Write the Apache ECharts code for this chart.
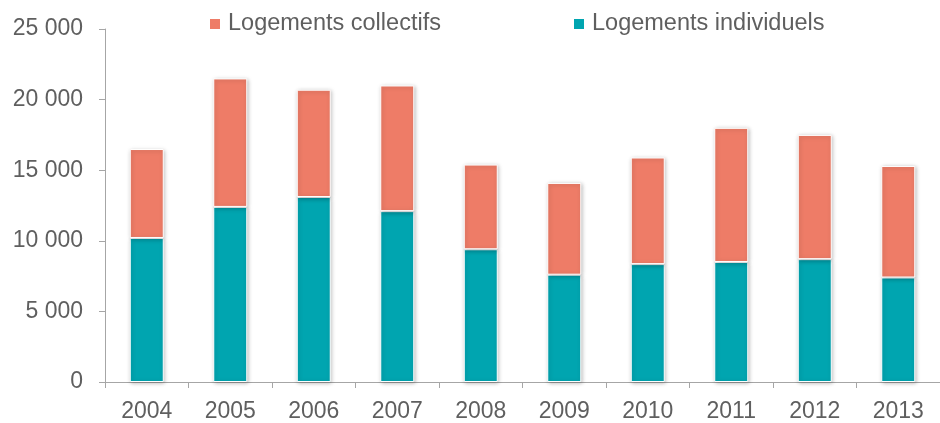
<!DOCTYPE html>
<html><head><meta charset="utf-8">
<script src="https://cdn.jsdelivr.net/npm/echarts@6/dist/echarts.min.js"></script>
<style>html,body{margin:0;padding:0;background:#fff}#c{width:940px;height:423px}</style>
</head><body><div id="c"></div>
<script>
var categories = ['2004','2005','2006','2007','2008','2009','2010','2011','2012','2013'];
var individuels = [10200,12400,13100,12100,9400,7600,8350,8500,8700,7400];
var collectifs = [6300,9100,7600,8900,6000,6500,7550,9500,8800,7900];
var yTicks = [0,5000,10000,15000,20000,25000];

var chart = echarts.init(document.getElementById('c'));
var font = 'Liberation Sans, Arial, sans-serif';
var barStyle = function(c){return {color:c,borderColor:'#fff',borderWidth:1,shadowColor:'rgba(0,0,0,0.25)',shadowBlur:4,shadowOffsetX:1,shadowOffsetY:1};};
chart.setOption({
  animation:false,
  textStyle:{fontFamily:font},
  legend:[
    {data:['Logements collectifs'],left:203,top:7,itemWidth:12,itemHeight:12,icon:'rect',
     textStyle:{fontFamily:font,fontSize:23.5,color:'#5f5f5f',padding:[0,0,0,2]}},
    {data:['Logements individuels'],left:567,top:7,itemWidth:12,itemHeight:12,icon:'rect',
     textStyle:{fontFamily:font,fontSize:23.5,color:'#5f5f5f',padding:[0,0,0,2]}}
  ],
  grid:{left:105,right:-3,top:29,bottom:41,containLabel:false},
  xAxis:{type:'category',data:categories,
    axisLine:{lineStyle:{color:'#a6a6a6',width:1}},
    axisTick:{show:true,length:6,lineStyle:{color:'#a6a6a6'}},
    axisLabel:{fontSize:23,color:'#5f5f5f',margin:18,fontFamily:font}},
  yAxis:{type:'value',min:0,max:25000,interval:5000,
    axisLine:{show:true,lineStyle:{color:'#a6a6a6'}},
    axisTick:{show:true,length:6,lineStyle:{color:'#a6a6a6'}},
    splitLine:{show:false},
    axisLabel:{fontSize:23,color:'#5f5f5f',margin:22,fontFamily:font,
      formatter:function(v){return yTicks.indexOf(v)<0?'':(v>=1000?Math.floor(v/1000)+' '+String(v%1000).padStart(3,'0'):String(v));}}},
  series:[
    {name:'Logements individuels',type:'bar',stack:'a',data:individuels,barWidth:34,itemStyle:barStyle('#00A5B0')},
    {name:'Logements collectifs',type:'bar',stack:'a',data:collectifs,barWidth:34,itemStyle:barStyle('#EE7C67')}
  ]
});
</script></body></html>
